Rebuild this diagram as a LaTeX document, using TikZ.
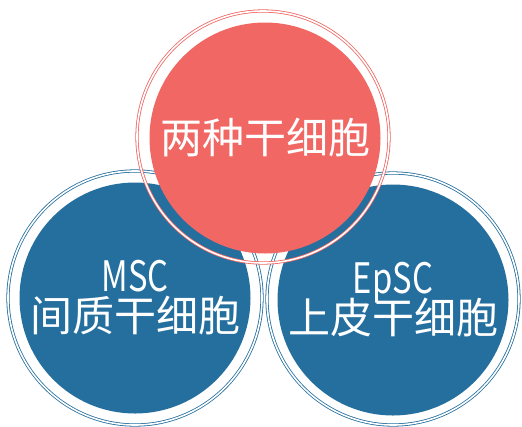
\documentclass[tikz,border=0pt]{standalone}
\usepackage{fontspec}
\setmainfont{Noto Sans CJK SC}
\definecolor{redc}{RGB}{240,103,99}
\definecolor{bluec}{RGB}{37,111,159}
\begin{document}
\begin{tikzpicture}[x=1pt,y=-1pt,
  ring/.style={draw=#1, double=white, double distance=1.6pt, line width=0.8pt},
  disc/.style={circle, fill=#1, minimum size=231pt, inner sep=0pt, text=white, align=center, font=\fontsize{42}{46}\selectfont},
]
\useasboundingbox (0,0) rectangle (522,426);
% left
\draw[ring=bluec] (135,298) circle (127);
\node[disc=bluec] (msc) at (135,298) {\scalebox{0.78}[1]{MSC}\\[-6pt]间质干细胞};
% right
\draw[ring=bluec] (393,299) circle (126);
\node[disc=bluec] (epsc) at (393,300) {\scalebox{0.78}[1]{EpSC}\\[-6pt]上皮干细胞};
% top
\draw[ring=redc] (263,137) circle (126);
\node[disc=redc] (top) at (265,138) {两种干细胞};
\end{tikzpicture}
\end{document}
